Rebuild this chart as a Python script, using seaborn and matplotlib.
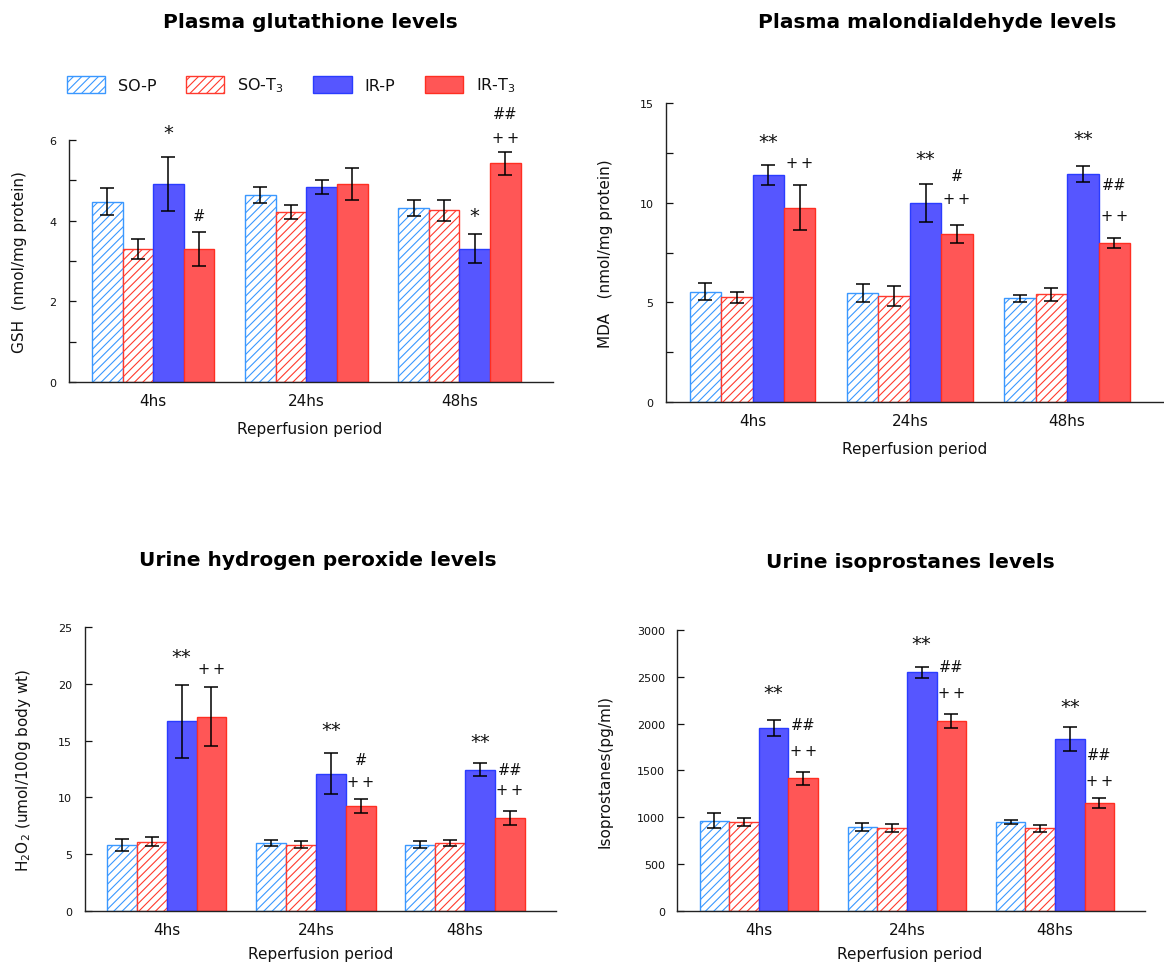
import matplotlib
matplotlib.use("Agg")
import matplotlib.pyplot as plt
from matplotlib.patches import Patch
import seaborn as sns
import pandas as pd
import numpy as np

sns.set_style("white")
plt.rcParams["font.family"] = ["DejaVu Sans"]
plt.rcParams["hatch.linewidth"] = 0.8
plt.rcParams["mathtext.default"] = "regular"
plt.rcParams["text.color"] = "#111111"
plt.rcParams["axes.labelcolor"] = "#111111"
plt.rcParams["xtick.color"] = "#111111"
plt.rcParams["ytick.color"] = "#111111"

# ---------------- data ----------------
periods = ["4hs", "24hs", "48hs"]
groups = ["SO-P", "SO-T3", "IR-P", "IR-T3"]
group_labels = ["SO-P", "SO-T$_3$", "IR-P", "IR-T$_3$"]

# Plasma glutathione (nmol/mg protein) -- rows: groups, cols: periods
gsh_mean = [[4.47, 4.64, 4.32], [3.30, 4.21, 4.26], [4.91, 4.83, 3.30], [3.30, 4.90, 5.42]]
gsh_err = [[0.33, 0.20, 0.20], [0.25, 0.17, 0.26], [0.67, 0.18, 0.36], [0.42, 0.40, 0.28]]

# Plasma MDA (nmol/mg protein)
mda_mean = [[5.53, 5.46, 5.20], [5.25, 5.31, 5.40], [11.38, 9.99, 11.45], [9.76, 8.45, 7.99]]
mda_err = [[0.44, 0.45, 0.18], [0.27, 0.50, 0.33], [0.50, 0.96, 0.40], [1.15, 0.45, 0.25]]

# Urine H2O2 (umol/100g body wt)
h2o2_mean = [[5.83, 5.97, 5.83], [6.09, 5.83, 5.97], [16.71, 12.09, 12.44], [17.12, 9.21, 8.18]]
h2o2_err = [[0.53, 0.25, 0.33], [0.38, 0.30, 0.30], [3.20, 1.84, 0.60], [2.60, 0.60, 0.65]]

# Urine isoprostanes (pg/ml)
iso_mean = [[962, 895, 945], [945, 880, 880], [1949, 2548, 1835], [1415, 2028, 1148]]
iso_err = [[77, 40, 23], [45, 43, 41], [85, 60, 133], [70, 78, 54]]

# significance marks: (period index, group, text, y value)
gsh_marks = [(0, "IR-P", "*", 6.17), (0, "IR-T3", "#", 4.12), (2, "IR-P", "*", 4.12),
             (2, "IR-T3", "++", 6.05), (2, "IR-T3", "##", 6.64)]
mda_marks = [(0, "IR-P", "**", 13.07), (0, "IR-T3", "++", 12.02), (1, "IR-P", "**", 12.25),
             (1, "IR-T3", "#", 11.36), (1, "IR-T3", "++", 10.24), (2, "IR-P", "**", 13.21),
             (2, "IR-T3", "##", 10.90), (2, "IR-T3", "++", 9.35)]
h2o2_marks = [(0, "IR-P", "**", 22.45), (0, "IR-T3", "++", 21.33), (1, "IR-P", "**", 15.98),
              (1, "IR-T3", "#", 13.36), (1, "IR-T3", "++", 11.39), (2, "IR-P", "**", 14.92),
              (2, "IR-T3", "##", 12.45), (2, "IR-T3", "++", 10.68)]
iso_marks = [(0, "IR-P", "**", 2327), (0, "IR-T3", "##", 1985), (0, "IR-T3", "++", 1710),
             (1, "IR-P", "**", 2858), (1, "IR-T3", "##", 2608), (1, "IR-T3", "++", 2334),
             (2, "IR-P", "**", 2185), (2, "IR-T3", "##", 1664), (2, "IR-T3", "++", 1390)]

titles = ["Plasma glutathione levels", "Plasma malondialdehyde levels",
          "Urine hydrogen peroxide levels", "Urine isoprostanes levels"]
ylabels = ["GSH  (nmol/mg protein)", "MDA   (nmol/mg protein)",
           "H$_2$O$_2$ (umol/100g body wt)", "Isoprostanes(pg/ml)"]
xlabel = "Reperfusion period"

# ---------------- styles ----------------
face_colors = ["white", "white", "#5656FF", "#FF5656"]
edge_colors = ["#3A98FF", "#FF3A2E", "#2A3CFF", "#FF2E22"]
hatches = ["////", "////", None, None]

fig = plt.figure(figsize=(11.64, 9.70), dpi=100)

panels = [
    dict(mean=gsh_mean, err=gsh_err, marks=gsh_marks, rect=[0.0592, 0.6048, 0.4158, 0.2501],
         ylim=(0, 6), major=[0, 2, 4, 6], minor=[1, 3, 5], ylab_x=-0.087, xlab=(0.498, -0.160)),
    dict(mean=mda_mean, err=mda_err, marks=mda_marks, rect=[0.5722, 0.5848, 0.4270, 0.3076],
         ylim=(0, 15), major=[0, 5, 10, 15], minor=[2.5, 7.5, 12.5], ylab_x=-0.106, xlab=(0.50, -0.130)),
    dict(mean=h2o2_mean, err=h2o2_err, marks=h2o2_marks, rect=[0.0727, 0.0601, 0.4050, 0.2922],
         ylim=(0, 25), major=[0, 5, 10, 15, 20, 25], minor=[], ylab_x=-0.109, xlab=(0.50, -0.123)),
    dict(mean=iso_mean, err=iso_err, marks=iso_marks, rect=[0.5819, 0.0601, 0.4021, 0.2894],
         ylim=(0, 3000), major=[0, 500, 1000, 1500, 2000, 2500, 3000], minor=[], ylab_x=-0.139,
         xlab=(0.4966, -0.126)),
]

for i, p in enumerate(panels):
    ax = fig.add_axes(p["rect"])
    rows = []
    for gi, g in enumerate(groups):
        for pi, per in enumerate(periods):
            rows.append(dict(period=per, group=g, value=p["mean"][gi][pi], err=p["err"][gi][pi]))
    df = pd.DataFrame(rows)
    sns.barplot(data=df, x="period", y="value", hue="group", order=periods, hue_order=groups,
                palette=face_colors, errorbar=None, saturation=1, width=0.8, legend=False, ax=ax)

    bar_pos = {}
    bar_containers = list(ax.containers)
    for gi, cont in enumerate(bar_containers):
        xs, ys, es = [], [], []
        for pi, bar in enumerate(cont.patches):
            bar.set_facecolor(face_colors[gi])
            bar.set_edgecolor(edge_colors[gi])
            bar.set_linewidth(1.0)
            if hatches[gi]:
                bar.set_hatch(hatches[gi])
            xc = bar.get_x() + bar.get_width() / 2
            bar_pos[(pi, groups[gi])] = xc
            xs.append(xc)
            ys.append(bar.get_height())
            es.append(p["err"][gi][pi])
        ax.errorbar(xs, ys, yerr=es, fmt="none", ecolor="black", elinewidth=1.1,
                    capsize=5.2, capthick=1.1, zorder=5)

    for (pi, g, txt, yv) in p["marks"]:
        if "*" in txt:
            ax.text(bar_pos[(pi, g)], yv, txt, ha="center", va="center", fontsize=14,
                    color="#111111", clip_on=False)
        elif txt == "++":
            ax.text(bar_pos[(pi, g)], yv, "+\u2009+", ha="center", va="center",
                    fontsize=10.5, color="#111111", clip_on=False)
        else:
            ax.text(bar_pos[(pi, g)], yv, txt, ha="center", va="center",
                    fontsize=10.5, color="#111111", clip_on=False)

    ax.set_xlim(-0.55, 2.61)
    ax.set_ylim(*p["ylim"])
    ax.set_yticks(p["major"])
    ax.set_yticks(p["minor"], minor=True)
    ax.tick_params(axis="y", which="both", direction="in", length=5, width=0.9,
                   labelsize=8, pad=9, left=True)
    ax.tick_params(axis="x", length=0, labelsize=11, pad=8)
    for sp in ["top", "right"]:
        ax.spines[sp].set_visible(False)
    for sp in ["left", "bottom"]:
        ax.spines[sp].set_color("#222222")
        ax.spines[sp].set_linewidth(1.0)
    ax.set_xlabel(xlabel, fontsize=11)
    ax.set_ylabel(ylabels[i], fontsize=11)
    ax.yaxis.set_label_coords(p["ylab_x"], 0.5)
    ax.xaxis.set_label_coords(*p["xlab"])
    ax.set_facecolor("white")

# titles
title_pos = [(310 / 1164, 1 - 23 / 970), (937 / 1164, 1 - 23 / 970),
             (318 / 1164, 1 - 561 / 970), (910 / 1164, 1 - 563 / 970)]
for t, (tx, ty) in zip(titles, title_pos):
    fig.text(tx, ty, t, ha="center", va="center", fontsize=14.5, fontweight="bold",
             color="black")

# legend
handles = [Patch(facecolor=face_colors[k], edgecolor=edge_colors[k], hatch=hatches[k],
                 linewidth=1.0) for k in range(4)]
fig.legend(handles, group_labels, loc="center left", bbox_to_anchor=(67 / 1164, 1 - 86 / 970),
           ncol=4, frameon=False, borderpad=0, borderaxespad=0, fontsize=11.5,
           handlelength=2.4, handleheight=1.3, handletextpad=0.8, columnspacing=1.85)

fig.savefig("out.png", dpi=100, facecolor="white")
